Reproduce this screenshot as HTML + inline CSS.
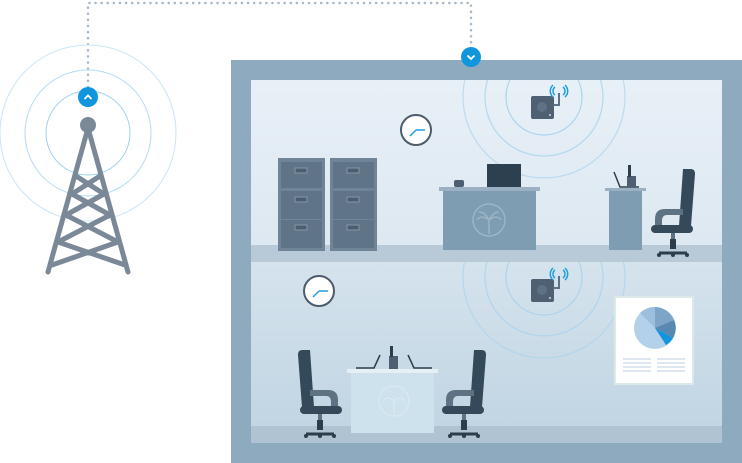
<!DOCTYPE html>
<html><head><style>html,body{margin:0;padding:0;background:#fff;}svg{display:block}</style></head>
<body>
<svg width="742" height="463" viewBox="0 0 742 463" xmlns="http://www.w3.org/2000/svg">
<defs>
<linearGradient id="up" x1="0" y1="0" x2="0" y2="1"><stop offset="0" stop-color="#e8f0f7"/><stop offset="1" stop-color="#dde8f1"/></linearGradient>
<linearGradient id="lo" x1="0" y1="0" x2="0" y2="1"><stop offset="0" stop-color="#d5e3ed"/><stop offset="1" stop-color="#c1d5e3"/></linearGradient>
<clipPath id="cu"><rect x="251" y="80" width="471" height="165"/></clipPath>
<clipPath id="cl"><rect x="251" y="262" width="471" height="164"/></clipPath>
<g id="chair">
<path d="M32 0 h8 q4 0 4 5 l-4 52 h-12 z" fill="#34495a"/>
<path d="M4 50 q0 -10 10 -10 h18 v6 h-16 q-5 0 -5 6 v8 h-7z" fill="#5d7283"/>
<rect x="0" y="56" width="42" height="8" rx="4" fill="#34495a"/>
<rect x="20" y="64" width="4" height="14" fill="#5d7283"/>
<rect x="19" y="70" width="6" height="10" fill="#2c3e4c"/>
<path d="M8 84 h28" stroke="#2c3e4c" stroke-width="3"/>
<circle cx="8" cy="86" r="2" fill="#2c3e4c"/><circle cx="36" cy="86" r="2" fill="#2c3e4c"/><circle cx="22" cy="86" r="2" fill="#2c3e4c"/>
</g>
<g id="router">
<rect x="0" y="0" width="23" height="23" rx="2" fill="#4f6072"/>
<circle cx="11" cy="11" r="5" fill="#5f7185"/>
<circle cx="19" cy="19" r="1" fill="#cfd8e0"/>
<path d="M22 9 h6 v-12" stroke="#5f7185" stroke-width="2" fill="none"/>
<path d="M24 -9 a5 5 0 0 0 0 8 M22 -11 a8 8 0 0 0 0 12 M32 -9 a5 5 0 0 1 0 8 M34 -11 a8 8 0 0 1 0 12" stroke="#1e9ee0" stroke-width="1.5" fill="none"/>
</g>
<g id="clock"><circle r="15" fill="#fff" stroke="#4d5c6b" stroke-width="2"/><path d="M0 0 h9 M0 0 l-6 6" stroke="#1e9ee0" stroke-width="1.5"/></g>
</defs>
<path d="M88 87 V3 H471 V47" stroke="#a7b8c8" stroke-width="2.5" stroke-dasharray="0.1 6" stroke-linecap="round" fill="none"/>
<g fill="none" stroke-width="1"><circle cx="88" cy="133" r="42" stroke="#9dd1ee"/><circle cx="88" cy="133" r="63" stroke="#b2dcf2"/><circle cx="88" cy="133" r="88" stroke="#c8e6f6"/></g>
<g stroke="#7a8898" stroke-width="5" stroke-linecap="round" fill="none">
<path d="M88 128 L48 272 M88 128 L128 272"/>
<path d="M76 176 L104 194 M100 176 L72 194 M72 194 L110 215 M104 194 L66 215 M66 215 L118 242 M110 215 L58 242 M58 242 L125 265 M118 242 L52 265"/>
</g>
<circle cx="88" cy="125" r="8" fill="#7a8898"/>
<circle cx="88" cy="97" r="10" fill="#1196de"/><path d="M84.5 99 L88 95.5 L91.5 99" stroke="#fff" stroke-width="1.8" fill="none"/>
<rect x="231" y="60" width="511" height="403" fill="#8eaabf"/>
<rect x="251" y="80" width="471" height="165" fill="url(#up)"/>
<rect x="251" y="245" width="471" height="17" fill="#b8cad8"/>
<rect x="251" y="262" width="471" height="164" fill="url(#lo)"/>
<rect x="251" y="426" width="471" height="17" fill="#afc3d3"/>
<circle cx="471" cy="57" r="10" fill="#1196de"/><path d="M467.5 55.5 L471 59 L474.5 55.5" stroke="#fff" stroke-width="1.8" fill="none"/>
<g fill="none" stroke="#a9d3ee" stroke-width="1.2" clip-path="url(#cu)">
<circle cx="544" cy="97" r="38"/><circle cx="544" cy="97" r="59" opacity=".85"/><circle cx="544" cy="97" r="81" opacity=".7"/>
</g>
<g fill="none" stroke="#a9d3ee" stroke-width="1.2" clip-path="url(#cl)">
<circle cx="544" cy="277" r="38"/><circle cx="544" cy="277" r="59" opacity=".85"/><circle cx="544" cy="277" r="81" opacity=".7"/>
</g>
<use href="#clock" x="416" y="130"/>
<use href="#router" x="531" y="96"/>
<g>
<rect x="278" y="158" width="47" height="93" fill="#6f8497"/><rect x="330" y="158" width="47" height="93" fill="#6f8497"/>
<g fill="#5f7487">
<rect x="281" y="162" width="41" height="26"/><rect x="281" y="191" width="41" height="28"/><rect x="281" y="220" width="41" height="28"/>
<rect x="333" y="162" width="41" height="26"/><rect x="333" y="191" width="41" height="28"/><rect x="333" y="220" width="41" height="28"/>
</g>
<g fill="#4b5d70" stroke="#8496a8" stroke-width="1">
<rect x="295" y="168" width="12" height="5"/><rect x="295" y="197" width="12" height="5"/><rect x="295" y="225" width="12" height="5"/>
<rect x="347" y="168" width="12" height="5"/><rect x="347" y="197" width="12" height="5"/><rect x="347" y="225" width="12" height="5"/>
</g>
</g>
<rect x="439" y="187" width="101" height="4" fill="#9bb1c3"/>
<rect x="443" y="191" width="93" height="59" fill="#7e9db2"/>
<circle cx="489" cy="220" r="16" fill="none" stroke="#9bb4c6" stroke-width="1.5"/>
<path d="M489 234 v-14 M489 220 q-8 -6 -12 0 M489 220 q8 -6 12 0 M489 220 q-4 -8 -10 -8 M489 220 q4 -8 10 -8" stroke="#9bb4c6" stroke-width="1.5" fill="none"/>
<rect x="487" y="164" width="34" height="23" fill="#2c4050"/>
<rect x="454" y="180" width="10" height="7" rx="2" fill="#4d5f70"/>
<rect x="605" y="188" width="41" height="3" fill="#9bb1c3"/><rect x="609" y="191" width="33" height="59" fill="#7e9db2"/>
<path d="M614 172 L620 187 H639" stroke="#2c3e4c" stroke-width="1.5" fill="none"/>
<rect x="627" y="176" width="9" height="11" fill="#4d5f70"/><rect x="628" y="165" width="3" height="12" fill="#2c3e4c"/>
<use href="#chair" x="651" y="169"/>
<use href="#clock" x="319" y="291"/>
<use href="#router" x="531" y="279"/>
<rect x="615" y="297" width="78" height="87" fill="#fff" stroke="#dde9e9" stroke-width="2"/>
<circle cx="655" cy="328" r="21" fill="#b3d1ea"/>
<path d="M655 328 V307 A21 21 0 0 1 674 320 Z" fill="#7ea5c8"/>
<path d="M655 328 L674 320 A21 21 0 0 1 673 338 Z" fill="#5a88b2"/>
<path d="M655 328 L673 338 A21 21 0 0 1 666 345 Z" fill="#1196de"/>
<path d="M655 328 V307 A21 21 0 0 0 640 313 Z" fill="#9cbfdd"/>
<g stroke="#d3dfea" stroke-width="1.5"><path d="M623 359 h28 M623 363 h28 M623 367 h28 M623 371 h28 M657 359 h28 M657 363 h28 M657 367 h28 M657 371 h28"/></g>
<rect x="347" y="369" width="91" height="4" fill="#e6eff5"/>
<rect x="351" y="373" width="83" height="60" fill="#cde2ec"/>
<circle cx="394" cy="401" r="15" fill="none" stroke="#d9e8f0" stroke-width="1.5"/>
<path d="M394 414 v-13 M394 401 q-7 -6 -11 0 M394 401 q7 -6 11 0" stroke="#d9e8f0" stroke-width="1.5" fill="none"/>
<path d="M356 368 h18 l6 -13 M432 368 h-18 l-6 -13" stroke="#2c3e4c" stroke-width="1.5" fill="none"/>
<rect x="389" y="356" width="9" height="13" fill="#4d5f70"/><rect x="390" y="346" width="3" height="11" fill="#2c3e4c"/>
<g transform="translate(342,350) scale(-1,1)"><use href="#chair"/></g>
<use href="#chair" x="442" y="350"/>
</svg>
</body></html>
